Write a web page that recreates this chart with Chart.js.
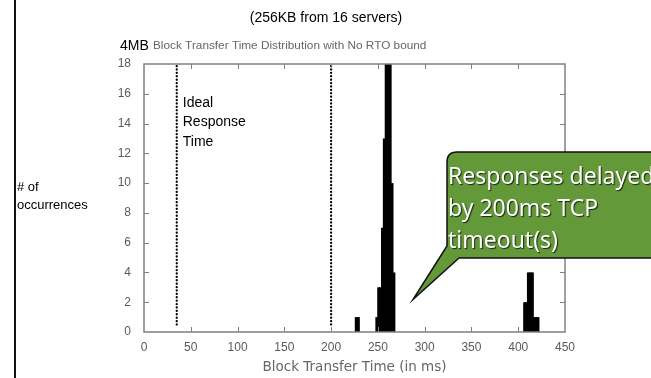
<!DOCTYPE html>
<html>
<head>
<meta charset="utf-8">
<script src="https://cdn.jsdelivr.net/npm/chart.js@4.4.1/dist/chart.umd.min.js"></script>
<style>
  html, body { margin: 0; padding: 0; background: #fff; }
  canvas { display: block; }
</style>
</head>
<body>
<canvas id="chart" width="651" height="378"></canvas>
<script>
// histogram bins (ms, bin centre) and how often each was seen
const binCenters = [227, 229, 249, 251, 253, 255, 257, 259, 261, 263, 265, 267, 407, 409, 411, 413, 415, 417, 419, 421];
const counts     = [1,   1,   1,   3,   3,   7,   13,  18,  18,  18,  10,  4,   2,   2,   4,   4,   4,   1,   1,   1];

// dotted markers: ideal response time and the 200ms RTO
const idealTimeMs = 35;
const rtoMs = 200;
const markerSpan = [0.5, 18];

const xTicks = [0, 50, 100, 150, 200, 250, 300, 350, 400, 450];
const yTicks = [0, 2, 4, 6, 8, 10, 12, 14, 16, 18];

const TICK_FONT = {family: 'Liberation Sans', size: 12};
const TICK_COLOR = '#5a5a5a';
const FRAME_COLOR = '#808080';

const whiteBg = {
    id: 'whiteBg',
    beforeDraw: chart => {
        const {ctx} = chart;
        ctx.save();
        ctx.fillStyle = '#fff';
        ctx.fillRect(0, 0, chart.width, chart.height);
        ctx.restore();
    }
};

// gnuplot style frame with inward ticks on all four sides
const gnuFrame = {
    id: 'gnuFrame',
    afterDatasetsDraw: chart => {
        const {ctx, chartArea: a, scales} = chart;
        ctx.save();
        ctx.strokeStyle = FRAME_COLOR;
        ctx.lineWidth = 1.5;
        ctx.strokeRect(a.left, a.top, a.right - a.left, a.bottom - a.top);
        ctx.lineWidth = 1;
        ctx.beginPath();
        xTicks.slice(1, -1).forEach(v => {
            const px = Math.round(scales.x.getPixelForValue(v)) + 0.5;
            ctx.moveTo(px, a.bottom); ctx.lineTo(px, a.bottom - 5);
            ctx.moveTo(px, a.top); ctx.lineTo(px, a.top + 5);
        });
        yTicks.slice(1, -1).forEach(v => {
            const py = Math.round(scales.y.getPixelForValue(v)) + 0.5;
            ctx.moveTo(a.left, py); ctx.lineTo(a.left + 5, py);
            ctx.moveTo(a.right, py); ctx.lineTo(a.right - 5, py);
        });
        ctx.stroke();
        ctx.restore();
    }
};

// titles, side labels and the green callout
const slideText = {
    id: 'slideText',
    afterDraw: chart => {
        const {ctx, scales} = chart;
        ctx.save();

        // left rule of the slide
        ctx.fillStyle = '#111';
        ctx.fillRect(14, 0, 2, chart.height);

        ctx.fillStyle = '#000';
        ctx.textBaseline = 'middle';
        ctx.font = '14px "Liberation Sans"';
        ctx.textAlign = 'center';
        ctx.fillText('(256KB from 16 servers)', 326, 18);

        ctx.textAlign = 'left';
        ctx.fillText('4MB', 120, 46);
        ctx.fillStyle = '#666';
        ctx.font = '11.8px "Liberation Sans"';
        ctx.fillText('Block Transfer Time Distribution with No RTO bound', 153, 46);

        ctx.fillStyle = '#000';
        ctx.font = '13px "Liberation Sans"';
        ctx.fillText('# of', 17, 187);
        ctx.fillText('occurrences', 17, 205);

        const ix = scales.x.getPixelForValue(idealTimeMs) + 6;
        ctx.font = '14px "Liberation Sans"';
        ctx.fillText('Ideal', ix, 103);
        ctx.fillText('Response', ix, 122);
        ctx.fillText('Time', ix, 142);

        // callout
        const top = 152, bot = 258, left = 447, r = 10;
        ctx.beginPath();
        ctx.moveTo(left, 246);
        ctx.lineTo(left, top + r);
        ctx.quadraticCurveTo(left, top, left + r, top);
        ctx.lineTo(chart.width + 20, top);
        ctx.lineTo(chart.width + 20, bot);
        ctx.lineTo(459, bot);
        ctx.lineTo(413, 299.5);
        ctx.closePath();
        ctx.fillStyle = '#64993a';
        ctx.fill();
        ctx.strokeStyle = '#111';
        ctx.lineWidth = 1.5;
        ctx.stroke();

        ctx.font = '23px "Noto Sans"';
        ctx.textBaseline = 'alphabetic';
        ctx.fillStyle = '#fff';
        ctx.shadowColor = 'rgba(0,0,0,0.75)';
        ctx.shadowOffsetX = 1;
        ctx.shadowOffsetY = 1;
        ctx.shadowBlur = 1;
        ctx.fillText('Responses delayed', 448, 184);
        ctx.fillText('by 200ms TCP', 448, 216);
        ctx.fillText('timeout(s)', 448, 248);
        ctx.restore();
    }
};

const marker = (x) => ({
    type: 'line',
    data: markerSpan.map(y => ({x: x, y: y})),
    borderColor: '#000',
    borderWidth: 2.3,
    borderDash: [0.1, 3.3],
    borderCapStyle: 'round',
    pointRadius: 0,
    fill: false,
});

new Chart(document.getElementById('chart'), {
    type: 'bar',
    data: {
        datasets: [
            {
                label: 'occurrences',
                data: binCenters.map((x, i) => ({x: x, y: counts[i]})),
                backgroundColor: '#000',
                borderWidth: 0,
                inflateAmount: 0,
                // wider than the bin spacing so neighbouring bins merge with no seams
                barPercentage: 1.7,
                categoryPercentage: 1,
                grouped: false,
            },
            marker(idealTimeMs),
            marker(rtoMs),
        ]
    },
    options: {
        responsive: false,
        animation: false,
        layout: {padding: {left: 104, right: 86, top: 64, bottom: 0}},
        scales: {
            x: {
                type: 'linear',
                offset: false,
                min: 0,
                max: 450,
                afterBuildTicks: s => { s.ticks = xTicks.map(v => ({value: v})); },
                afterFit: s => { s.height = 46; },
                grid: {display: false, drawTicks: false},
                border: {display: false},
                ticks: {color: TICK_COLOR, font: TICK_FONT, padding: 8, maxRotation: 0},
                title: {
                    display: true,
                    text: 'Block Transfer Time (in ms)',
                    color: '#666',
                    font: {family: 'DejaVu Sans', size: 13.5},
                    padding: {top: 0, bottom: 2},
                },
            },
            y: {
                min: 0,
                max: 18,
                afterBuildTicks: s => { s.ticks = yTicks.map(v => ({value: v})); },
                afterFit: s => { s.width = 40; },
                grid: {display: false, drawTicks: false},
                border: {display: false},
                ticks: {color: TICK_COLOR, font: TICK_FONT, padding: 13},
            },
        },
        plugins: {
            legend: {display: false},
            tooltip: {enabled: false},
        },
    },
    plugins: [whiteBg, gnuFrame, slideText],
});
</script>
</body>
</html>
